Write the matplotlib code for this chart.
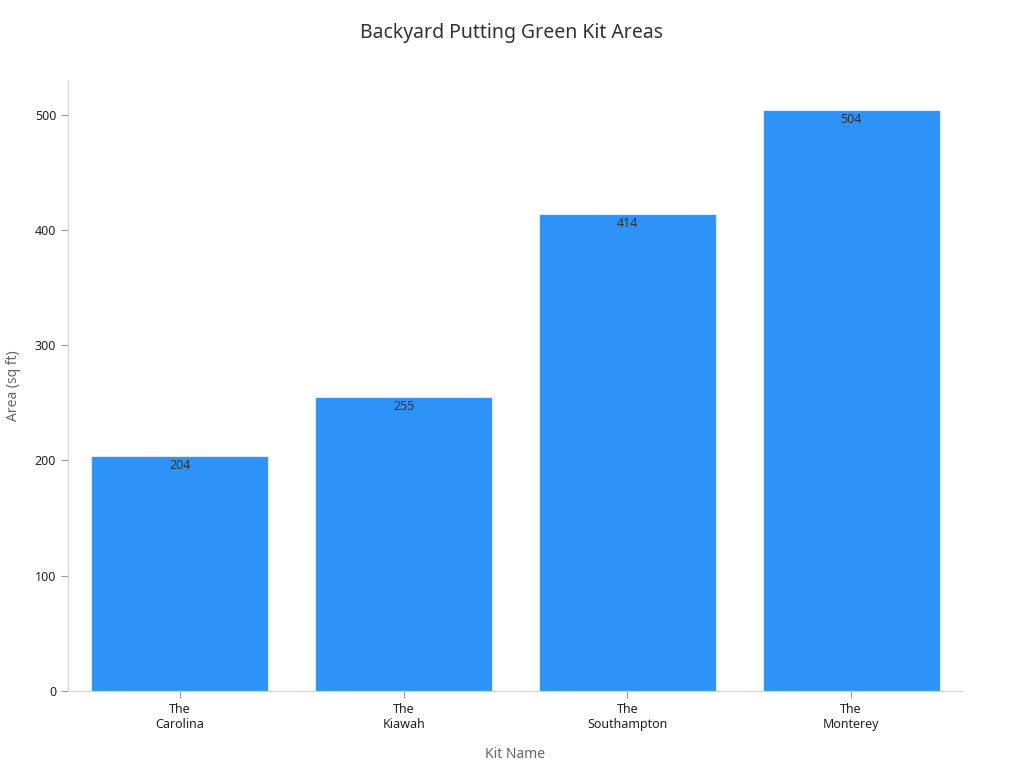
import matplotlib
matplotlib.use("Agg")
import matplotlib.pyplot as plt

plt.rcParams["font.family"] = ["Noto Sans", "DejaVu Sans"]

# chart data
kits = ["The\nCarolina", "The\nKiawah", "The\nSouthampton", "The\nMonterey"]
areas = [204, 255, 414, 504]

fig = plt.figure(figsize=(10.24, 7.68), dpi=100)
ax = fig.add_axes([68 / 1024, 1 - 691 / 768, (963 - 68) / 1024, (691 - 80) / 768])

bars = ax.bar(range(len(kits)), areas, width=0.79, color="#2E93F8",
              edgecolor="#DDE8F5", linewidth=0.8)
for b, v in zip(bars, areas):
    ax.text(b.get_x() + b.get_width() / 2, v - 3, str(v), ha="center", va="top",
            fontsize=9, color="#333333")

ax.set_xlim(-0.5, 3.5)
ax.set_ylim(0, 530)
ax.set_xticks(range(len(kits)))
ax.set_xticklabels(kits, fontsize=9, color="#222222")
ax.set_yticks([0, 100, 200, 300, 400, 500])
ax.tick_params(axis="y", labelsize=9, colors="#222222", length=5, color="#999999")
ax.tick_params(axis="x", length=5, color="#999999")

for side in ["top", "right"]:
    ax.spines[side].set_visible(False)
for side in ["left", "bottom"]:
    ax.spines[side].set_color("#D5D5D5")

ax.set_xlabel("Kit Name", fontsize=10, color="#666666", labelpad=12)
ax.set_ylabel("Area (sq ft)", fontsize=10, color="#666666", labelpad=10)
fig.suptitle("Backyard Putting Green Kit Areas", fontsize=14, color="#333333", y=0.97)

fig.savefig("out.png", dpi=100)
